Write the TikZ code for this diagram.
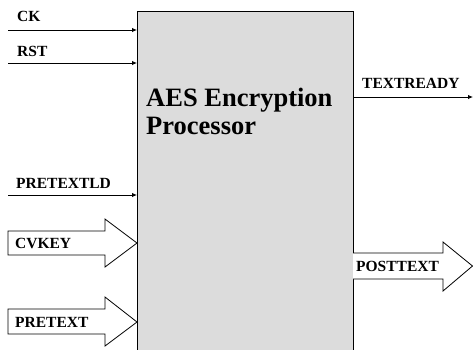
\documentclass[tikz,border=0pt]{standalone}
\usepackage{fontspec}
\setmainfont{Liberation Serif}
\usetikzlibrary{arrows.meta}
\definecolor{boxgray}{HTML}{DCDCDC}
\tikzset{
  sig/.style={draw=black, line width=0.9bp, -{Latex[length=5bp,width=4.5bp]}},
  bus/.style={draw=black, line width=0.8bp, fill=white, line join=miter},
  lbl/.style={font=\fontsize{15.5bp}{17bp}\selectfont\bfseries, inner sep=0pt, anchor=base west},
  ttl/.style={font=\fontsize{26.5bp}{28bp}\selectfont\bfseries, inner sep=0pt, anchor=base west, align=left}
}
\begin{document}
\begin{tikzpicture}[x=1bp,y=-1bp]
  \useasboundingbox (0,0) rectangle (473,349);
  \clip (0,0) rectangle (473,349);
  % processor block, running off the lower edge
  \fill[boxgray] (137,11) rectangle (353,360);
  \draw[line width=0.9bp] (137,360) -- (137,11) -- (353,11) -- (353,360);
  \coordinate (boxW) at (137,0);
  \coordinate (boxE) at (353,0);
  \node[ttl] (title) at (146,134) {AES Encryption\\Processor};

  % single-bit inputs
  \coordinate (ckS) at (8,30);
  \coordinate (rstS) at (8,63);
  \coordinate (ldS) at (8,195);
  \draw[sig] (ckS) -- (ckS -| boxW);
  \draw[sig] (rstS) -- (rstS -| boxW);
  \draw[sig] (ldS) -- (ldS -| boxW);
  \node[lbl] (ck) at (17,21) {CK};
  \node[lbl] (rst) at (17,56) {RST};
  \node[lbl] (ld) at (16,188) {PRETEXTLD};

  % single-bit output
  \coordinate (trE) at (473,97);
  \draw[sig] (trE -| boxE) -- (trE);
  \node[lbl] (tr) at (362,88) {TEXTREADY};

  % bus inputs
  \draw[bus] (8,231) -- (105,231) -- (105,219) -- (137,243) -- (105,267) -- (105,255) -- (8,255) -- cycle;
  \node[lbl] (cvkey) at (15,248) {CVKEY};
  \draw[bus] (8,309) -- (105,309) -- (105,297) -- (137,322) -- (105,346) -- (105,334) -- (8,334) -- cycle;
  \node[lbl] (pretext) at (15,327.5) {PRETEXT};

  % bus output
  \draw[bus] (353,253) -- (443,253) -- (443,242) -- (472.5,266) -- (443,291) -- (443,279) -- (353,279);
  \node[lbl] (posttext) at (356,271) {POSTTEXT};
\end{tikzpicture}
\end{document}
